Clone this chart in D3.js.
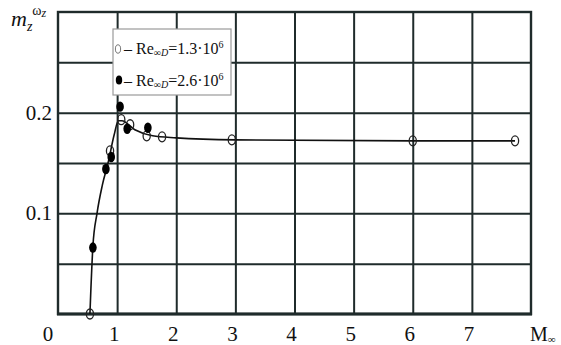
<!DOCTYPE html>
<html>
<head>
<meta charset="utf-8">
<script src="https://cdn.jsdelivr.net/npm/d3@7"></script>
<style>
  body { margin: 0; background: #fff; }
  text { font-family: "Liberation Serif", "DejaVu Serif", serif; fill: #111; }
  .grid line { stroke: #1f2b2b; stroke-width: 2; }
  .grid path { display: none; }
</style>
</head>
<body>
<svg width="561" height="345"></svg>
<script>
// Mach ticks and m_z coefficient ticks
var xTicks = [0, 1, 2, 3, 4, 5, 6, 7];
var yTicks = [0.1, 0.2];

// fitted curve through both series
var curveM   = [0.54, 0.59, 0.66, 0.75, 0.85, 0.95, 1.02, 1.08, 1.3, 1.6, 2.0, 3.0, 6.0, 7.73];
var curveVal = [0, 0.067, 0.1, 0.128, 0.151, 0.178, 0.192, 0.192, 0.183, 0.177, 0.175, 0.173, 0.172, 0.172];

// Re = 1.3e6 (open)
var openM   = [0.54, 0.88, 1.07, 1.22, 1.5, 1.76, 2.94, 6.0, 7.73];
var openVal = [0, 0.162, 0.193, 0.188, 0.177, 0.176, 0.173, 0.172, 0.172];

// Re = 2.6e6 (filled)
var fillM   = [0.59, 0.81, 0.9, 1.05, 1.17, 1.52];
var fillVal = [0.066, 0.144, 0.156, 0.206, 0.184, 0.185];

var svg = d3.select("svg");
var x = d3.scaleLinear().domain([0, 8]).range([58, 531]);
var y = d3.scaleLinear().domain([0, 0.3]).range([314, 12]);
var ink = "#1f2b2b";

// grid
svg.append("g")
  .attr("class", "grid")
  .attr("transform", "translate(0,314)")
  .call(d3.axisBottom(x).tickValues(d3.range(1, 8)).tickSize(-302).tickFormat(""));

svg.append("g")
  .attr("class", "grid")
  .attr("transform", "translate(58,0)")
  .call(d3.axisLeft(y).tickValues([0.05, 0.1, 0.15, 0.2, 0.25]).tickSize(-473).tickFormat(""))
  .selectAll("line")
    .attr("stroke-width", d => d === 0.15 ? 3 : 2);

// frame
svg.append("rect")
  .attr("x", x(0)).attr("y", y(0.3))
  .attr("width", x(8) - x(0)).attr("height", y(0) - y(0.3))
  .attr("fill", "none").attr("stroke", ink).attr("stroke-width", 2.4);
svg.append("line")
  .attr("x1", x(0) - 1).attr("x2", x(8) + 1).attr("y1", y(0)).attr("y2", y(0))
  .attr("stroke", ink).attr("stroke-width", 3);

// tick labels
svg.selectAll(".xl").data(xTicks).enter().append("text")
  .attr("x", d => d === 0 ? x(0) - 10 : x(d) - 3)
  .attr("y", 341)
  .attr("text-anchor", "middle")
  .attr("font-size", 21)
  .text(d => d);

svg.selectAll(".yl").data(yTicks).enter().append("text")
  .attr("x", 52)
  .attr("y", d => y(d) + 7)
  .attr("text-anchor", "end")
  .attr("font-size", 21)
  .text(d => d3.format(".1f")(d));

var mx = svg.append("text").attr("x", 530).attr("y", 341).attr("font-size", 20);
mx.append("tspan").text("M");
mx.append("tspan").attr("font-size", 11).attr("dy", 2).text("∞");

// y axis title
var yt = svg.append("text").attr("x", 11).attr("y", 26).attr("font-size", 22).attr("font-style", "italic");
yt.append("tspan").text("m");
yt.append("tspan").attr("font-size", 14).attr("dy", 5).text("z");
yt.append("tspan").attr("font-size", 14).attr("dy", -16).attr("font-style", "normal").text("ω");
yt.append("tspan").attr("font-size", 12).attr("dy", 2).text("z");

// curve
var pts = curveM.map((m, i) => [m, curveVal[i]]);
svg.append("path")
  .datum(pts)
  .attr("fill", "none")
  .attr("stroke", "#111")
  .attr("stroke-width", 1.6)
  .attr("d", d3.line().x(d => x(d[0])).y(d => y(d[1])).curve(d3.curveMonotoneX));

// markers
svg.selectAll(".op").data(openM.map((m, i) => [m, openVal[i]])).enter().append("ellipse")
  .attr("cx", d => x(d[0])).attr("cy", d => y(d[1]))
  .attr("rx", 3.6).attr("ry", 5)
  .attr("fill", "none").attr("stroke", "#222").attr("stroke-width", 1.3);

svg.selectAll(".fp").data(fillM.map((m, i) => [m, fillVal[i]])).enter().append("ellipse")
  .attr("cx", d => x(d[0])).attr("cy", d => y(d[1]))
  .attr("rx", 3.8).attr("ry", 5.2)
  .attr("fill", "#000");

// legend
var lg = svg.append("g");
lg.append("rect")
  .attr("x", 113).attr("y", 29).attr("width", 118).attr("height", 66)
  .attr("fill", "#fff").attr("stroke", "#9a9a9a").attr("stroke-width", 1.2);
lg.append("ellipse").attr("cx", 118).attr("cy", 49).attr("rx", 2.6).attr("ry", 4.2)
  .attr("fill", "none").attr("stroke", "#777").attr("stroke-width", 1);
lg.append("ellipse").attr("cx", 119).attr("cy", 80).attr("rx", 3.2).attr("ry", 4.5)
  .attr("fill", "#000");

var rows = [["1.3", 54], ["2.6", 86]];
rows.forEach(function (r) {
  var t = lg.append("text").attr("x", 124).attr("y", r[1]).attr("font-size", 16);
  t.append("tspan").text("– Re");
  t.append("tspan").attr("font-size", 10).attr("dy", 2).text("∞");
  t.append("tspan").attr("font-size", 10).attr("font-style", "italic").text("D");
  t.append("tspan").attr("dy", -2).text("=" + r[0] + "·10");
  t.append("tspan").attr("font-size", 10).attr("dy", -6).text("6");
});
</script>
</body>
</html>
